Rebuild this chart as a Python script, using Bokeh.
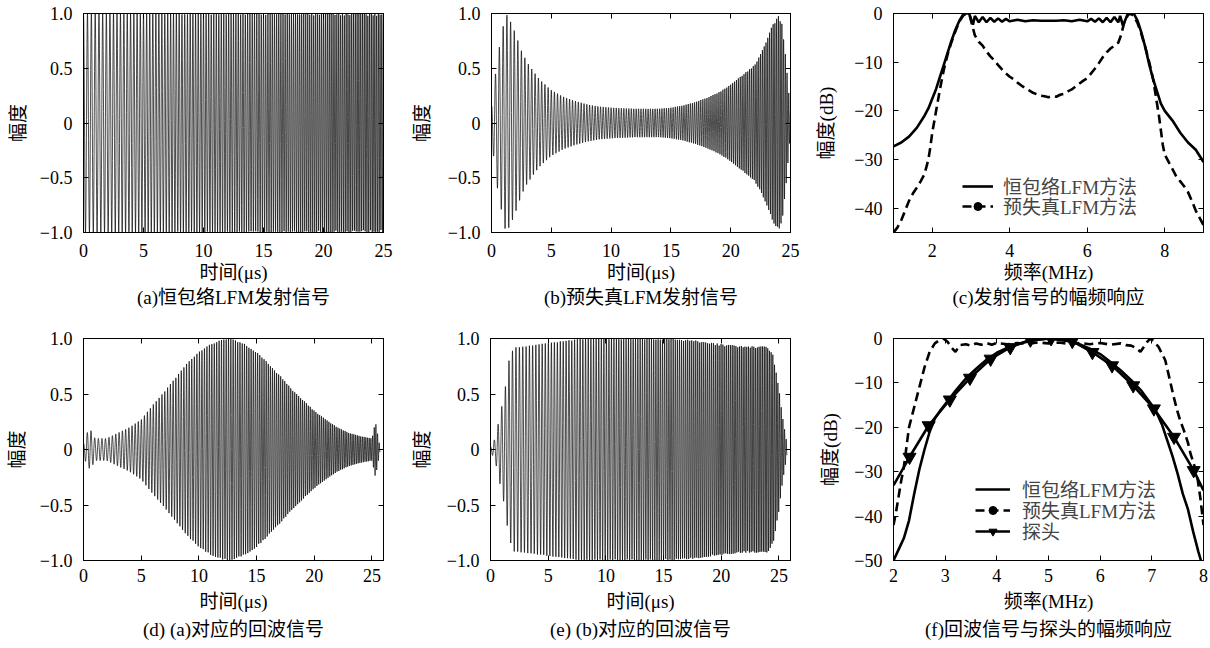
import numpy as np
from bokeh.plotting import figure
from bokeh.layouts import column, row
from bokeh.models import (LinearAxis, FixedTicker, Range1d, Title, Legend,
                          LegendItem, CustomJSTickFormatter)
from bokeh.embed import file_html
from bokeh.resources import INLINE

# ---------------- data ----------------
chirp_f0_mhz = 3.0          # LFM start frequency
chirp_f1_mhz = 7.0          # LFM stop frequency
tx_duration_us = 25.0
echo_duration_us = 25.7
sample_step_us = 0.01       # sampling of the plotted waveforms

# envelopes of the time signals (time in us, amplitude)
env_a_t = [0.0, 25.0]
env_a_v = [1.0, 1.0]

env_b_t = [0.0, 0.5, 1.0, 1.2, 1.5, 2.0, 2.5, 3.0, 4.0, 5.0, 6.0, 7.0, 8.0, 9.0,
           10.0, 12.0, 14.0, 15.0, 16.0, 17.0, 18.0, 19.0, 20.0, 21.0, 22.0,
           22.5, 23.0, 23.5, 24.0, 24.3, 24.6, 25.0]
env_b_v = [0.15, 0.6, 0.9, 1.0, 0.95, 0.82, 0.66, 0.55, 0.4, 0.3, 0.24, 0.2,
           0.17, 0.15, 0.14, 0.13, 0.13, 0.14, 0.16, 0.19, 0.23, 0.28, 0.35,
           0.44, 0.53, 0.63, 0.75, 0.9, 0.98, 0.9, 0.6, 0.1]

env_d_t = [0.0, 0.3, 0.6, 1.0, 2.0, 3.0, 4.0, 5.0, 6.0, 7.0, 8.0, 9.0, 10.0,
           11.0, 12.0, 12.5, 13.0, 14.0, 15.0, 16.0, 17.0, 18.0, 19.0, 20.0,
           21.0, 22.0, 23.0, 24.0, 25.0, 25.3, 25.7]
env_d_v = [0.05, 0.15, 0.18, 0.1, 0.1, 0.15, 0.2, 0.27, 0.4, 0.52, 0.65, 0.78,
           0.88, 0.95, 0.99, 1.0, 0.99, 0.95, 0.88, 0.78, 0.67, 0.55, 0.45,
           0.35, 0.27, 0.2, 0.15, 0.12, 0.1, 0.25, 0.02]

env_e_t = [0.0, 0.4, 0.8, 1.2, 1.6, 2.0, 3.0, 5.0, 8.0, 12.0, 16.0, 18.0, 20.0,
           22.0, 24.0, 24.5, 25.0, 25.3, 25.7]
env_e_v = [0.02, 0.1, 0.3, 0.5, 0.8, 0.92, 0.93, 0.96, 1.0, 1.0, 1.0, 0.98,
           0.95, 0.93, 0.93, 0.85, 0.55, 0.3, 0.05]

# (c) spectra of the transmitted signals (MHz, dB)
c_const_f = [1.0, 1.2, 1.4, 1.6, 1.8, 1.9, 2.0, 2.1, 2.2, 2.3, 2.4, 2.5, 2.6,
             2.7, 2.8, 2.85, 2.95, 3.05, 3.1, 3.2, 3.3, 3.4, 3.5, 3.6, 3.7,
             3.8, 3.9, 4.0, 4.2, 4.4, 4.6, 4.8, 5.0, 5.2, 5.4, 5.6, 5.8, 6.0,
             6.1, 6.2, 6.3, 6.4, 6.5, 6.6, 6.7, 6.8, 6.85, 6.92, 7.05, 7.2,
             7.3, 7.4, 7.5, 7.6, 7.7, 7.8, 7.9, 8.0, 8.2, 8.4, 8.6, 8.8, 9.0]
c_const_db = [-27.3, -26.5, -25.3, -23.5, -21.0, -19.5, -17.5, -15.5, -13.0,
              -10.5, -8.0, -5.5, -3.3, -1.5, -0.2, 0.0, 0.0, -2.3, -0.5, -1.8,
              -0.7, -1.8, -0.9, -1.7, -1.0, -1.7, -1.1, -1.6, -1.3, -1.6, -1.4,
              -1.5, -1.5, -1.5, -1.4, -1.6, -1.3, -1.6, -1.1, -1.7, -1.0, -1.8,
              -0.9, -1.8, -0.7, -1.8, -0.5, -2.5, 0.0, 0.0, -1.5, -4.0, -7.0,
              -10.5, -13.5, -16.0, -18.5, -20.0, -22.0, -24.5, -26.5, -28.0,
              -30.5]

c_pre_f = [1.0, 1.1, 1.2, 1.3, 1.4, 1.5, 1.6, 1.7, 1.8, 1.85, 1.9, 1.95, 2.0,
           2.1, 2.2, 2.3, 2.4, 2.5, 2.6, 2.7, 2.8, 2.9, 2.97, 3.05, 3.1, 3.2,
           3.3, 3.4, 3.5, 3.6, 3.7, 3.8, 3.9, 4.0, 4.1, 4.2, 4.3, 4.4, 4.5,
           4.6, 4.7, 4.8, 4.9, 5.0, 5.1, 5.2, 5.3, 5.4, 5.5, 5.6, 5.7, 5.8,
           5.9, 6.0, 6.1, 6.2, 6.3, 6.4, 6.5, 6.6, 6.7, 6.8, 6.87, 6.95, 7.05,
           7.12, 7.2, 7.3, 7.4, 7.5, 7.6, 7.7, 7.75, 7.85, 7.95, 8.0, 8.1, 8.2,
           8.3, 8.4, 8.5, 8.6, 8.7, 8.8, 8.9, 9.0]
c_pre_db = [-45.0, -44.0, -42.5, -40.5, -38.5, -37.0, -35.8, -34.5, -33.0,
            -31.5, -30.0, -27.5, -24.5, -20.0, -15.5, -11.5, -8.3, -5.8, -3.6,
            -1.6, -0.4, 0.0, -0.5, -3.0, -4.5, -5.8, -6.6, -7.8, -8.8, -9.6,
            -10.6, -11.5, -12.3, -13.0, -13.5, -14.2, -14.8, -15.3, -15.8,
            -16.3, -16.6, -16.9, -17.0, -17.2, -17.0, -17.1, -16.7, -16.5,
            -16.0, -15.6, -15.0, -14.4, -13.8, -13.3, -12.3, -11.3, -10.2,
            -9.0, -8.0, -7.2, -6.6, -6.0, -4.5, -2.0, -0.3, 0.0, -0.5, -2.0,
            -4.3, -7.0, -10.0, -13.5, -16.0, -21.0, -27.0, -29.0, -30.5,
            -32.0, -33.5, -34.5, -35.5, -36.7, -38.5, -40.5, -42.0, -43.5]

# (f) spectra of the echoes and of the probe (MHz, dB)
f_const_f = [2.0, 2.1, 2.2, 2.3, 2.4, 2.5, 2.6, 2.7, 2.8, 2.9, 3.0, 3.2, 3.4,
             3.6, 3.8, 4.0, 4.2, 4.4, 4.6, 4.8, 5.0, 5.2, 5.4, 5.6, 5.8, 6.0,
             6.2, 6.4, 6.6, 6.8, 7.0, 7.1, 7.2, 7.3, 7.4, 7.5, 7.6, 7.7, 7.8,
             7.9, 7.95]
f_const_db = [-50.0, -47.5, -45.0, -41.0, -35.0, -29.5, -25.0, -21.0, -18.0,
              -16.3, -14.8, -11.8, -9.0, -6.8, -4.8, -3.2, -2.1, -1.3, -0.7,
              -0.3, 0.0, -0.3, -0.6, -1.3, -2.3, -3.5, -5.3, -7.2, -9.4,
              -11.8, -15.0, -16.9, -19.5, -23.0, -26.5, -30.5, -35.0, -38.5,
              -43.5, -48.0, -50.0]

f_pre_f = [2.0, 2.05, 2.1, 2.15, 2.2, 2.25, 2.3, 2.4, 2.5, 2.6, 2.7, 2.8, 2.9,
           2.97, 3.05, 3.12, 3.2, 3.28, 3.4, 3.5, 3.6, 3.7, 3.8, 3.9, 4.0,
           4.2, 4.4, 4.6, 4.8, 5.0, 5.2, 5.4, 5.6, 5.8, 6.0, 6.2, 6.4, 6.5,
           6.6, 6.7, 6.78, 6.85, 6.92, 6.98, 7.05, 7.13, 7.2, 7.26, 7.35, 7.42,
           7.49, 7.55, 7.62, 7.7, 7.75, 7.82, 7.88, 7.94, 8.0]
f_pre_db = [-42.0, -39.0, -35.5, -32.0, -29.0, -24.5, -20.0, -15.5, -11.0,
            -6.5, -3.0, -1.1, -0.3, 0.0, -0.8, -2.0, -3.0, -1.5, -1.3, -1.6,
            -1.1, -1.4, -1.0, -1.4, -1.0, -1.3, -1.0, -1.2, -0.9, -1.1, -0.9,
            -1.2, -1.0, -1.3, -1.0, -1.4, -1.1, -1.5, -1.6, -2.2, -3.0, -1.8,
            -0.6, 0.0, -0.8, -1.9, -3.5, -4.9, -9.4, -13.0, -16.2, -18.5,
            -20.7, -23.5, -26.0, -28.5, -31.2, -36.0, -42.0]

probe_f = [2.0, 2.31, 2.68, 3.09, 3.48, 3.88, 4.26, 4.65, 5.05, 5.46, 5.85,
           6.23, 6.64, 7.04, 7.43, 7.81, 8.0]
probe_db = [-33.1, -26.7, -19.6, -13.8, -8.9, -4.6, -2.0, -0.3, 0.0, -0.6,
            -3.1, -6.1, -10.6, -15.8, -22.2, -29.7, -34.2]

# tick labels
amp_ticks = [-1.0, -0.5, 0.0, 0.5, 1.0]
amp_labels = ["\u22121.0", "\u22120.5", "0", "0.5", "1.0"]
time_ticks = [0, 5, 10, 15, 20, 25]
c_x_ticks = [2, 4, 6, 8]
c_y_ticks = [-40, -30, -20, -10, 0]
f_x_ticks = [2, 3, 4, 5, 6, 7, 8]
f_y_ticks = [-50, -40, -30, -20, -10, 0]

captions = ["(a)恒包络LFM发射信号", "(b)预失真LFM发射信号", "(c)发射信号的幅频响应",
            "(d) (a)对应的回波信号", "(e) (b)对应的回波信号", "(f)回波信号与探头的幅频响应"]
legend_const = "恒包络LFM方法"
legend_pre = "预失真LFM方法"
legend_probe = "探头"

# ---------------- helpers ----------------
FONT = "'Liberation Serif', 'Noto Sans CJK SC'"
TICK_SIZE = "18px"
LABEL_SIZE = "19px"


def lfm(t, duration):
    k = (chirp_f1_mhz - chirp_f0_mhz) / duration
    return np.cos(2 * np.pi * (chirp_f0_mhz * t + 0.5 * k * t * t))


def signal(env_t, env_v, duration):
    t = np.arange(0.0, duration + sample_step_us / 2, sample_step_us)
    return t, np.interp(t, env_t, env_v) * lfm(t, duration)


def fmt_minus(ticks):
    out = {}
    for v in ticks:
        if v == 0:
            out[v] = "0"
        elif v < 0:
            out[v] = "\u2212" + str(abs(int(v)))
        else:
            out[v] = str(int(v))
    return out


def style_axis(ax, ticks, overrides, standoff, label=None, label_standoff=5,
               show_labels=True):
    ax.ticker = FixedTicker(ticks=ticks)
    ax.major_tick_in = 5
    ax.major_tick_out = 0
    ax.minor_tick_line_color = None
    ax.axis_line_color = "black"
    ax.major_tick_line_color = "black"
    if show_labels:
        ax.major_label_overrides = overrides
        ax.major_label_text_font = FONT
        ax.major_label_text_font_size = TICK_SIZE
        ax.major_label_text_color = "black"
        ax.major_label_standoff = standoff
    else:
        ax.formatter = CustomJSTickFormatter(code="return ''")
        ax.major_label_standoff = 0
        ax.major_label_text_font_size = "1px"
    if label is not None:
        ax.axis_label = label
        ax.axis_label_text_font = FONT
        ax.axis_label_text_font_size = LABEL_SIZE
        ax.axis_label_text_font_style = "normal"
        ax.axis_label_text_color = "black"
        ax.axis_label_standoff = label_standoff


def make_fig(width, height, bl, br, bt, bb, xr, yr, xticks, xover, yticks,
             yover, xlabel, ylabel, ylab_standoff, caption, xtick_standoff,
             xlab_standoff, cap_standoff):
    p = figure(width=width, height=height, x_range=Range1d(*xr),
               y_range=Range1d(*yr), output_backend="svg",
               toolbar_location=None, title=None,
               min_border_left=bl, min_border_right=br, min_border_top=bt,
               min_border_bottom=bb)
    p.grid.visible = False
    p.outline_line_color = "black"
    p.outline_line_width = 1
    p.background_fill_color = "white"
    p.border_fill_color = "white"
    style_axis(p.xaxis[0], xticks, xover, xtick_standoff, xlabel,
               xlab_standoff)
    style_axis(p.yaxis[0], yticks, yover, 11, ylabel, ylab_standoff)
    top = LinearAxis()
    style_axis(top, xticks, {}, 0, show_labels=False)
    right = LinearAxis()
    style_axis(right, yticks, {}, 0, show_labels=False)
    p.add_layout(top, "above")
    p.add_layout(right, "right")
    p.add_layout(Title(text=caption, align="center", text_font=FONT,
                       text_font_size=LABEL_SIZE, text_font_style="normal",
                       text_color="black", standoff=cap_standoff), "below")
    # hidden range used only to give legend markers a glyph without
    # showing them inside the frame
    p.extra_y_ranges = {"legend_only": Range1d(1000, 1001)}
    return p


def add_legend_item(p, label, renderers, x, y, glyph_width, standoff):
    leg = Legend(items=[LegendItem(label=label, renderers=renderers)],
                 location=(x, y), padding=0, margin=0, spacing=0,
                 glyph_width=glyph_width, glyph_height=20, label_height=20,
                 label_standoff=standoff, label_text_font=FONT,
                 label_text_font_size=LABEL_SIZE, border_line_color=None,
                 background_fill_alpha=0)
    p.add_layout(leg)


amp_over = dict(zip(amp_ticks, amp_labels))
time_over = {v: str(v) for v in time_ticks}

H1, H2 = 317, 331
R1 = dict(xtick_standoff=11, xlab_standoff=2, cap_standoff=-2)
R2 = dict(xtick_standoff=8, xlab_standoff=6, cap_standoff=4)
SIG_W = 0.7

# ---------------- (a) ----------------
pa = make_fig(408, H1, 83, 25, 13, 85, (0, 25), (-1, 1), time_ticks,
              time_over, amp_ticks, amp_over, "时间(μs)", "幅度", 8,
              captions[0], **R1)
ta, sa = signal(env_a_t, env_a_v, tx_duration_us)
pa.line(ta, sa, line_color="black", line_width=SIG_W)

# ---------------- (b) ----------------
pb = make_fig(402, H1, 82, 20, 13, 85, (0, 25), (-1, 1), time_ticks,
              time_over, amp_ticks, amp_over, "时间(μs)", "幅度", 12,
              captions[1], **R1)
tb, sb = signal(env_b_t, env_b_v, tx_duration_us)
pb.line(tb, sb, line_color="black", line_width=SIG_W)

# ---------------- (c) ----------------
pc = make_fig(398, H1, 83, 5, 13, 85, (1, 9), (-45, 0), c_x_ticks,
              fmt_minus(c_x_ticks), c_y_ticks, fmt_minus(c_y_ticks),
              "频率(MHz)", "幅度(dB)", 14, captions[2], **R1)
rc1 = pc.line(c_const_f, c_const_db, line_color="black", line_width=2.6)
rc2 = pc.line(c_pre_f, c_pre_db, line_color="black", line_width=2.6,
              line_dash="9 5")
rc3 = pc.scatter(c_pre_f, c_pre_db, marker="circle", size=9, color="black",
                 y_range_name="legend_only")
add_legend_item(pc, legend_const, [rc1], 69, 33, 31, 10)
add_legend_item(pc, legend_pre, [rc2, rc3], 69, 13, 31, 10)

# ---------------- (d) ----------------
pd_ = make_fig(408, H2, 83, 25, 21, 88, (0, 26), (-1, 1), time_ticks,
               time_over, amp_ticks, amp_over, "时间(μs)", "幅度", 9,
               captions[3], **R2)
td, sd = signal(env_d_t, env_d_v, echo_duration_us)
pd_.line(td, sd, line_color="black", line_width=SIG_W)

# ---------------- (e) ----------------
pe = make_fig(402, H2, 81, 20, 21, 88, (0, 26), (-1, 1), time_ticks,
              time_over, amp_ticks, amp_over, "时间(μs)", "幅度", 11,
              captions[4], **R2)
te, se = signal(env_e_t, env_e_v, echo_duration_us)
pe.line(te, se, line_color="black", line_width=SIG_W)

# ---------------- (f) ----------------
pf = make_fig(398, H2, 83, 5, 21, 88, (2, 8), (-50, 0), f_x_ticks,
              fmt_minus(f_x_ticks), f_y_ticks, fmt_minus(f_y_ticks),
              "频率(MHz)", "幅度(dB)", 10, captions[5], **R2)
rf1 = pf.line(f_const_f, f_const_db, line_color="black", line_width=2.6)
rf2 = pf.line(f_pre_f, f_pre_db, line_color="black", line_width=2.6,
              line_dash="9 5")
rf3 = pf.scatter(f_pre_f, f_pre_db, marker="circle", size=9, color="black",
                 y_range_name="legend_only")
rf4 = pf.line(probe_f, probe_db, line_color="black", line_width=2.6)
rf5 = pf.scatter(probe_f[1:-1], probe_db[1:-1], marker="inverted_triangle",
                 size=13, color="black")
add_legend_item(pf, legend_const, [rf1], 82, 58, 35, 12)
add_legend_item(pf, legend_pre, [rf2, rf3], 82, 37, 35, 12)
add_legend_item(pf, legend_probe, [rf4, rf5], 82, 16, 35, 12)

layout = column(row(pa, pb, pc), row(pd_, pe, pf))
open("out.html", "w").write(file_html(layout, INLINE))
